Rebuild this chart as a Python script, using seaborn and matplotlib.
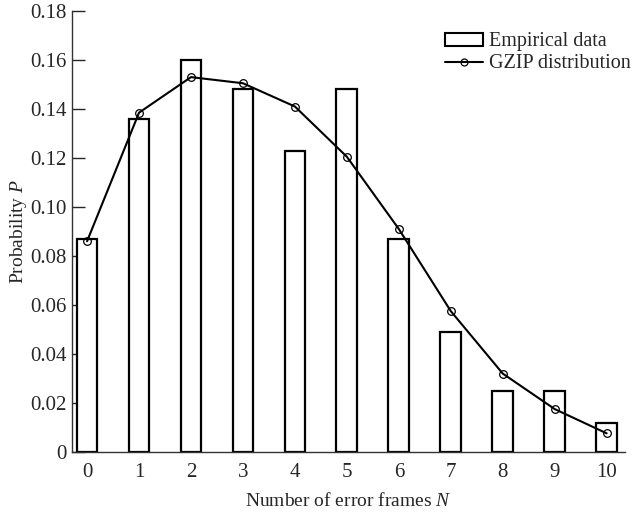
#bar chart of empirical error frame counts with the GZIP fit on top

import matplotlib
matplotlib.use("Agg")
import matplotlib.pyplot as plt
from matplotlib.patches import Patch
from matplotlib.lines import Line2D
import seaborn as sns

#number of error frames
frames = [0, 1, 2, 3, 4, 5, 6, 7, 8, 9, 10]

#empirical probabilities (bars)
empirical = [0.087, 0.136, 0.160, 0.148, 0.123, 0.148, 0.087, 0.049, 0.025, 0.025, 0.012]

#GZIP distribution (line)
gzip_fit = [0.086, 0.1385, 0.153, 0.1505, 0.141, 0.1205, 0.091, 0.0575, 0.032, 0.0175, 0.0076]

#y tick values and labels
y_ticks = [0, 0.02, 0.04, 0.06, 0.08, 0.10, 0.12, 0.14, 0.16, 0.18]
y_labels = ["0", "0.02", "0.04", "0.06", "0.08", "0.10", "0.12", "0.14", "0.16", "0.18"]

sns.set_style("ticks")
plt.rcParams['font.family'] = ['Liberation Serif', 'DejaVu Serif']
plt.rcParams['mathtext.fontset'] = 'custom'
plt.rcParams['mathtext.rm'] = 'Liberation Serif'
plt.rcParams['mathtext.it'] = 'Liberation Serif:italic'

fig = plt.figure(figsize=(6.35, 5.13), dpi=100)
ax = fig.add_axes([0.1134, 0.119, 0.8706, 0.8596])

# bars
sns.barplot(x=frames, y=empirical, native_scale=True, width=0.4,
            color="white", edgecolor="black", linewidth=1.6, ax=ax)

# fitted line
sns.lineplot(x=frames, y=gzip_fit, color="black", linewidth=1.5,
             marker="o", markersize=5.5, markerfacecolor="none",
             markeredgecolor="black", markeredgewidth=0.9, ax=ax)

ax.set_xlim(-0.29, 10.35)
ax.set_ylim(0, 0.18)
ax.set_xticks(frames)
ax.set_xticklabels([str(f) for f in frames])
ax.set_yticks(y_ticks)
ax.set_yticklabels(y_labels)

ax.tick_params(axis='x', length=0, labelsize=15, pad=8)
ax.tick_params(axis='y', direction='in', length=9, width=1, labelsize=15, pad=4)

sns.despine(ax=ax)
for side in ['left', 'bottom']:
    ax.spines[side].set_linewidth(1.0)
    ax.spines[side].set_color("#333333")

ax.set_xlabel("Number of error frames $N$", fontsize=14, labelpad=7)
ax.set_ylabel("Probability $P$", fontsize=14, labelpad=1)

# legend
handles = [Patch(facecolor="white", edgecolor="black", linewidth=1.5),
           Line2D([0], [0], color="black", linewidth=1.5, marker="o",
                  markersize=5, markerfacecolor="none", markeredgewidth=0.9)]
ax.legend(handles, ["Empirical data", "GZIP distribution"], loc="upper right",
          bbox_to_anchor=(1.025, 0.97), frameon=False, fontsize=14.5,
          handlelength=1.9, handleheight=0.6, handletextpad=0.3, labelspacing=0.15,
          borderaxespad=0)

fig.savefig("out.png", dpi=100)
